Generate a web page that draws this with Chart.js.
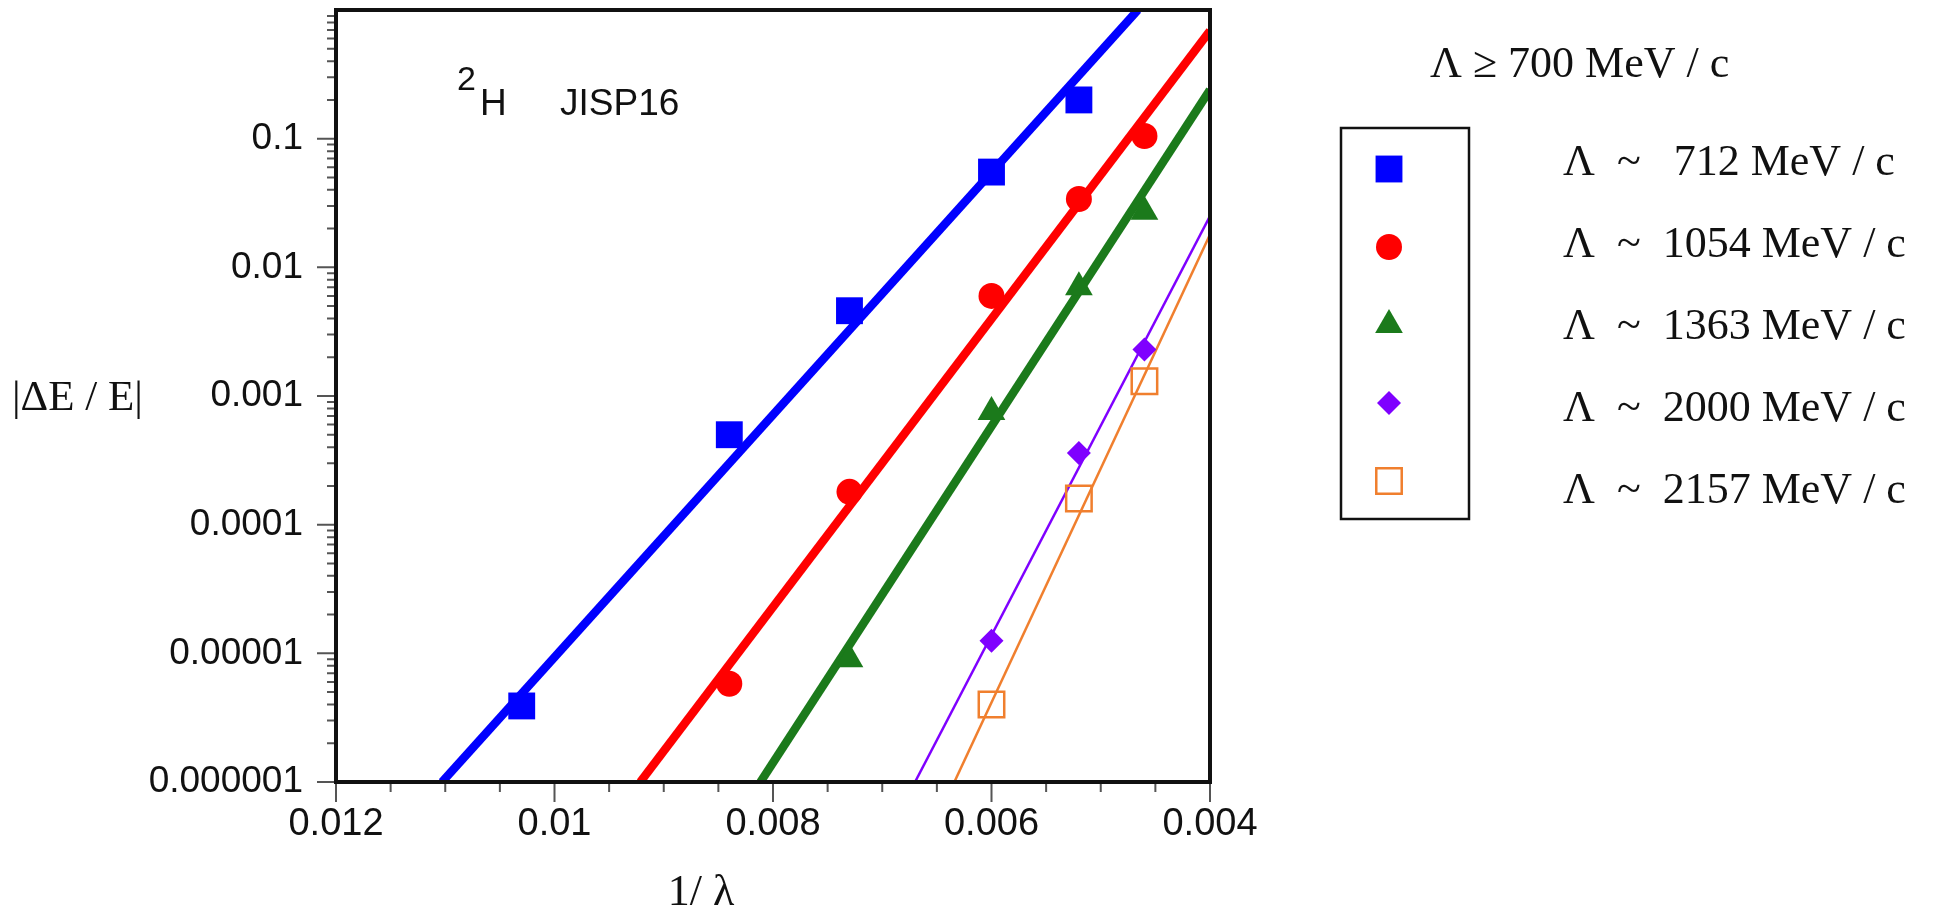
<!DOCTYPE html>
<html>
<head>
<meta charset="utf-8">
<script src="https://cdn.jsdelivr.net/npm/chart.js@4"></script>
<style>
  html, body { margin: 0; padding: 0; background: #fff; }
  #chart { display: block; }
</style>
</head>
<body>
<canvas id="chart" width="1935" height="911"></canvas>
<script>
// axis ticks
const xTickValues = [0.012, 0.01, 0.008, 0.006, 0.004];
const xTickLabels = ["0.012", "0.01", "0.008", "0.006", "0.004"];
const yTickValues = [1e-6, 1e-5, 1e-4, 1e-3, 1e-2, 1e-1];
const yTickLabels = ["0.000001", "0.00001", "0.0001", "0.001", "0.01", "0.1"];

// series names as in the legend
const seriesLabels = [
  "Λ  ~   712 MeV / c",
  "Λ  ~  1054 MeV / c",
  "Λ  ~  1363 MeV / c",
  "Λ  ~  2000 MeV / c",
  "Λ  ~  2157 MeV / c",
];

// points
const x712 = [0.0103, 0.0084, 0.0073, 0.0060, 0.0052];
const y712 = [3.9e-6, 5.0e-4, 4.6e-3, 0.055, 0.2];
const x1054 = [0.0084, 0.0073, 0.0060, 0.0052, 0.0046];
const y1054 = [5.8e-6, 1.8e-4, 6.0e-3, 0.034, 0.105];
const x1363 = [0.0073, 0.0060, 0.0052, 0.0046];
const y1363 = [9e-6, 7.5e-4, 7e-3, 0.027];
const x2000 = [0.0060, 0.0052, 0.0046];
const y2000 = [1.25e-5, 3.6e-4, 2.3e-3];
const x2157 = [0.0060, 0.0052, 0.0046];
const y2157 = [4e-6, 1.6e-4, 1.3e-3];

// fit lines: where they enter and leave the frame
const fit712X = [0.01103, 0.00466], fit712Y = [1e-6, 1];
const fit1054X = [0.009215, 0.004], fit1054Y = [1e-6, 0.69];
const fit1363X = [0.008115, 0.004], fit1363Y = [1e-6, 0.24];
const fit2000X = [0.0067, 0.004], fit2000Y = [1e-6, 0.025];
const fit2157X = [0.00634, 0.004], fit2157Y = [1e-6, 0.018];

const series = [
  { xs: x712, ys: y712, fx: fit712X, fy: fit712Y, color: "#0000ff", style: "rect", r: 19, filled: true, lw: 8.5 },
  { xs: x1054, ys: y1054, fx: fit1054X, fy: fit1054Y, color: "#ff0000", style: "circle", r: 13, filled: true, lw: 8.5 },
  { xs: x1363, ys: y1363, fx: fit1363X, fy: fit1363Y, color: "#1b7a1b", style: "triangle", r: 16, filled: true, lw: 8.5 },
  { xs: x2000, ys: y2000, fx: fit2000X, fy: fit2000Y, color: "#7f00ff", style: "rectRot", r: 12, filled: true, lw: 2.5 },
  { xs: x2157, ys: y2157, fx: fit2157X, fy: fit2157Y, color: "#f07f2e", style: "rect", r: 18, filled: false, lw: 2.5 },
];

const toPts = (xs, ys) => xs.map((x, i) => ({ x: x, y: ys[i] }));

const datasets = [];
series.forEach((s, i) => {
  datasets.push({
    label: seriesLabels[i],
    data: toPts(s.xs, s.ys),
    showLine: false,
    pointStyle: s.style,
    pointRadius: s.r,
    pointHoverRadius: s.r,
    backgroundColor: s.filled ? s.color : "rgba(0,0,0,0)",
    borderColor: s.color,
    pointBorderWidth: s.filled ? 0 : 2.5,
    order: 0,
  });
  datasets.push({
    label: seriesLabels[i] + " fit",
    data: toPts(s.fx, s.fy),
    showLine: true,
    pointRadius: 0,
    borderColor: s.color,
    borderWidth: s.lw,
    fill: false,
    order: 1,
  });
});

const SANS = '"Liberation Sans", Arial, sans-serif';
const SERIF = '"Liberation Serif", "Times New Roman", serif';

// frame, tick marks, labels and the legend box
const decor = {
  id: "decor",
  afterDraw(chart) {
    const { ctx, chartArea: a, scales } = chart;
    const xs = scales.x, ys = scales.y;
    ctx.save();

    ctx.strokeStyle = "#555";
    ctx.lineWidth = 2;
    ctx.beginPath();
    for (let d = -6; d < 0; d++) {
      for (let m = 1; m <= 9; m++) {
        const py = ys.getPixelForValue(m * Math.pow(10, d));
        const len = m === 1 ? 19 : 9;
        ctx.moveTo(a.left - len, py);
        ctx.lineTo(a.left, py);
      }
    }
    for (let k = 0; k <= 16; k++) {
      const px = xs.getPixelForValue(0.004 + k * 0.0005);
      const len = k % 4 === 0 ? 20 : 10;
      ctx.moveTo(px, a.bottom);
      ctx.lineTo(px, a.bottom + len);
    }
    ctx.stroke();

    ctx.strokeStyle = "#111";
    ctx.lineWidth = 4;
    ctx.strokeRect(a.left, a.top, a.right - a.left, a.bottom - a.top);

    ctx.fillStyle = "#111";
    ctx.textAlign = "left";
    ctx.textBaseline = "alphabetic";
    ctx.font = "34px " + SANS;
    ctx.fillText("2", 457, 90);
    ctx.font = "37px " + SANS;
    ctx.fillText("H", 480, 115);
    ctx.fillText("JISP16", 560, 115);

    ctx.font = "43px " + SERIF;
    ctx.fillText("|ΔE / E|", 12, 410);

    ctx.textAlign = "center";
    ctx.font = "44px " + SERIF;
    ctx.fillText("1/ λ", 701, 905);

    ctx.textAlign = "left";
    ctx.font = "44px " + SERIF;
    ctx.fillText("Λ ≥ 700 MeV / c", 1430, 77);

    ctx.lineWidth = 2.5;
    ctx.strokeRect(1341, 128, 128, 391);

    series.forEach((s, i) => {
      const cy = 169 + i * 78;
      ctx.fillStyle = s.filled ? s.color : "rgba(0,0,0,0)";
      ctx.strokeStyle = s.color;
      ctx.lineWidth = s.filled ? 0 : 2.5;
      Chart.helpers.drawPoint(ctx, { pointStyle: s.style, radius: s.r, borderWidth: s.filled ? 0 : 2.5, rotation: 0 }, 1389, cy);
      ctx.fillStyle = "#111";
      ctx.font = "44px " + SERIF;
      ctx.fillText(seriesLabels[i], 1563, 175 + i * 82);
    });

    ctx.restore();
  },
};

new Chart(document.getElementById("chart"), {
  type: "scatter",
  data: { datasets },
  options: {
    responsive: false,
    animation: false,
    devicePixelRatio: 1,
    layout: { autoPadding: false, padding: { top: 10, right: 725, left: 0, bottom: 0 } },
    plugins: { legend: { display: false }, tooltip: { enabled: false } },
    scales: {
      x: {
        type: "linear",
        reverse: true,
        min: 0.004,
        max: 0.012,
        afterBuildTicks: (s) => { s.ticks = xTickValues.map((v) => ({ value: v })); },
        afterFit: (s) => { s.height = 129; s.paddingLeft = 0; s.paddingRight = 0; },
        grid: { display: false, drawTicks: false },
        border: { display: false },
        ticks: {
          font: { family: SANS, size: 38 },
          color: "#111",
          padding: 20,
          maxRotation: 0,
          autoSkip: false,
          callback: (v) => xTickLabels[xTickValues.indexOf(v)],
        },
      },
      y: {
        type: "logarithmic",
        min: 1e-6,
        max: 1,
        afterBuildTicks: (s) => { s.ticks = yTickValues.map((v) => ({ value: v })); },
        afterFit: (s) => { s.width = 336; s.paddingTop = 0; s.paddingBottom = 0; },
        grid: { display: false, drawTicks: false },
        border: { display: false },
        ticks: {
          font: { family: SANS, size: 37 },
          color: "#111",
          padding: 33,
          autoSkip: false,
          callback: (v) => {
            const i = yTickValues.findIndex((t) => Math.abs(t - v) / t < 1e-6);
            return i >= 0 ? yTickLabels[i] : "";
          },
        },
      },
    },
  },
  plugins: [decor],
});
</script>
</body>
</html>
